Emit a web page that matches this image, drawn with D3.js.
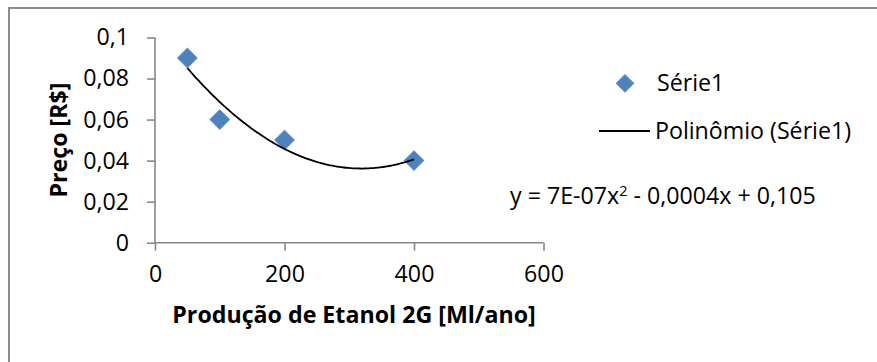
<!DOCTYPE html>
<html>
<head>
<meta charset="utf-8">
<script src="https://cdn.jsdelivr.net/npm/d3@7"></script>
<style>
  html, body { margin: 0; padding: 0; background: #fff; }
  svg { display: block; }
  text { font-family: "Open Sans", Lato, sans-serif; fill: #000; }
</style>
</head>
<body>
<svg id="chart" width="877" height="362"></svg>
<script>
// Production of 2G ethanol (Ml/year) versus price (R$)
const production = [50, 100, 200, 400];
const price = [0.09, 0.06, 0.05, 0.04];

const xTicks = [0, 200, 400, 600];
const yTicks = [0, 0.02, 0.04, 0.06, 0.08, 0.1];

const seriesName = "Série1";
const trendName = "Polinômio (Série1)";
const trendEquation = ["y = 7E-07x", "2", " - 0,0004x + 0,105"];
const xTitle = "Produção de Etanol 2G [Ml/ano]";
const yTitle = "Preço [R$]";

const FONT = "'Open Sans', Lato, sans-serif";
const FS = 23.2;

const svg = d3.select("#chart");
const fmt = d => d3.format("~g")(d).replace(".", ",");

// chart frame
svg.append("rect")
  .attr("x", 9).attr("y", 8).attr("width", 900).attr("height", 400)
  .attr("fill", "none").attr("stroke", "#8c8c8c").attr("stroke-width", 2);

const x = d3.scaleLinear().domain([0, 600]).range([155, 543.5]);
const y = d3.scaleLinear().domain([0, 0.1]).range([242.7, 37.5]);

const axisColor = "#878787";

// y axis
const gy = svg.append("g").attr("transform", `translate(${x(0)},0)`)
  .call(d3.axisLeft(y).tickValues(yTicks).tickSize(8).tickPadding(18).tickFormat(fmt));
// x axis
const gx = svg.append("g").attr("transform", `translate(0,${y(0)})`)
  .call(d3.axisBottom(x).tickValues(xTicks).tickSize(8).tickPadding(15).tickFormat(fmt));

[gx, gy].forEach(g => {
  g.attr("font-family", FONT).attr("font-size", FS);
  g.select(".domain").attr("stroke", axisColor).attr("stroke-width", 1.6);
  g.selectAll(".tick line").attr("stroke", axisColor).attr("stroke-width", 1.6);
  g.selectAll(".tick text").attr("fill", "#000");
});
gy.select(".domain").attr("d", `M0,${y(0.1)}V${y(0)}`);
gx.select(".domain").attr("d", `M${x(0)},0H${x(600)}`);

// least-squares quadratic fit y = a + b x + c x^2
function quadFit(xs, ys) {
  const S = k => d3.sum(xs, v => Math.pow(v, k));
  const T = k => d3.sum(xs, (v, i) => Math.pow(v, k) * ys[i]);
  const M = [
    [S(0), S(1), S(2), T(0)],
    [S(1), S(2), S(3), T(1)],
    [S(2), S(3), S(4), T(2)]
  ];
  for (let i = 0; i < 3; i++) {
    for (let j = i + 1; j < 3; j++) {
      const f = M[j][i] / M[i][i];
      for (let k = i; k < 4; k++) M[j][k] -= f * M[i][k];
    }
  }
  const r = [0, 0, 0];
  for (let i = 2; i >= 0; i--) {
    let s = M[i][3];
    for (let k = i + 1; k < 3; k++) s -= M[i][k] * r[k];
    r[i] = s / M[i][i];
  }
  return r;
}
const [a, b, c] = quadFit(production, price);
const xMin = d3.min(production), xMax = d3.max(production);
const curve = d3.range(0, 101).map(i => {
  const xv = xMin + (xMax - xMin) * i / 100;
  return [xv, a + b * xv + c * xv * xv];
});

// markers
const diamond = d3.symbol().type(d3.symbolSquare).size(190);
svg.append("g").selectAll("path")
  .data(production.map((p, i) => [p, price[i]]))
  .join("path")
  .attr("d", diamond)
  .attr("transform", d => `translate(${x(d[0])},${y(d[1])}) rotate(45)`)
  .attr("fill", "#4f81bd").attr("stroke", "#5b8cc6").attr("stroke-width", 1);

// trendline
svg.append("path")
  .datum(curve)
  .attr("d", d3.line().x(d => x(d[0])).y(d => y(d[1])))
  .attr("fill", "none").attr("stroke", "#000").attr("stroke-width", 1.8);

// legend
svg.append("path")
  .attr("d", d3.symbol().type(d3.symbolSquare).size(150))
  .attr("transform", "translate(625,83.3) rotate(45)")
  .attr("fill", "#4f81bd").attr("stroke", "#5b8cc6").attr("stroke-width", 1);
svg.append("text").attr("x", 657).attr("y", 91).attr("font-size", FS).text(seriesName);
svg.append("line").attr("x1", 599).attr("x2", 650).attr("y1", 131).attr("y2", 131)
  .attr("stroke", "#000").attr("stroke-width", 1.8);
svg.append("text").attr("x", 655).attr("y", 139).attr("font-size", FS).text(trendName);

// equation label
const eq = svg.append("text").attr("x", 510).attr("y", 204).attr("font-size", FS);
eq.append("tspan").text(trendEquation[0]);
eq.append("tspan").attr("dy", -8).attr("font-size", 14.5).text(trendEquation[1]);
eq.append("tspan").attr("dy", 8).text(trendEquation[2]);

// axis titles
svg.append("text")
  .attr("x", 354).attr("y", 323).attr("text-anchor", "middle")
  .attr("font-size", FS).attr("font-weight", "bold").text(xTitle);
svg.append("text")
  .attr("transform", "translate(67,140) rotate(-90)").attr("text-anchor", "middle")
  .attr("font-size", FS).attr("font-weight", "bold").text(yTitle);
</script>
</body>
</html>
